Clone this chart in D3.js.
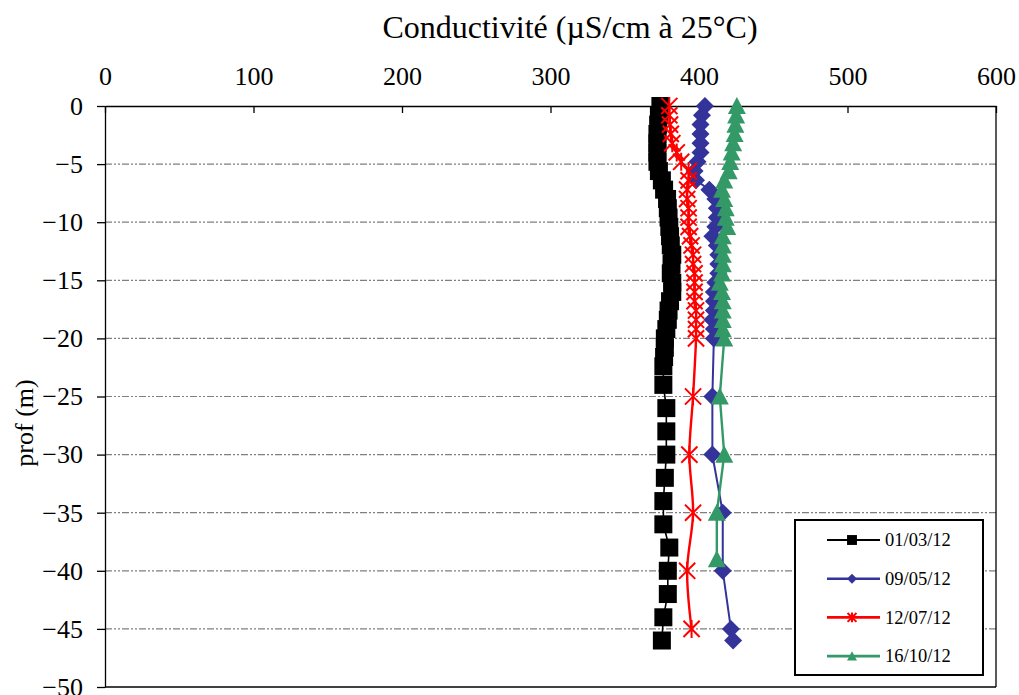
<!DOCTYPE html>
<html>
<head>
<meta charset="utf-8">
<script src="https://cdn.jsdelivr.net/npm/d3@7"></script>
<style>
body{margin:0;background:#fff}
svg text{font-family:"Liberation Serif","Times New Roman",serif;fill:#000}
</style>
</head>
<body>
<div class="chart"></div>
<script>
// depths (m) and conductivity values
const depthTop = [0,-0.8,-1.6,-2.4,-3.2,-4,-4.8,-5.6,-6.4,-7.2,-8,-8.8,-9.6,-10.4,-11.2,-12,-12.8,-13.6,-14.4,-15.2,-16,-16.8,-17.6,-18.4,-19.2,-20];

const depthBlack = depthTop.concat([-20.8,-21.6,-22.4,-24,-26,-28,-30,-32,-34,-36,-38,-40,-42,-44,-46]);
const valBlack = [374,373,372.5,372,372,372,372,373,375,376.5,378.5,379,379.5,380,380.5,381,382,381.5,381,382,382,380.5,379.5,379,378,377,
  377,376.5,376,376,378,378,378,377,376,376,380,379,379,376,375];

const depthBlue = depthTop.concat([-25,-30,-35,-40,-45,-46]);
const valBlue = [404,402,401,401,401,401,399,397,398,407,411,412,412,411,409,412,413,413,413,411,410,410,410,409,410,410,
  409,409,416,416,421.5,423];

const depthRed = depthTop.concat([-25,-30,-35,-40,-45]);
const valRed = [380,380,380.5,381,382,385,388,393,393,392,392,393,393,393,394,395,396,396,397,397,397,397,398,398,398,398,
  396,393.5,396,392,395];

const depthGreen = depthTop.concat([-25,-30,-35,-39]);
const valGreen = [425.5,425,424.5,424,423,422,421,420,417,415.5,417,418,418,419,416,416,416,416,415.5,414,415.5,416,416,416,416,417,
  414,417,412,412];

const seriesNames = ["01/03/12","09/05/12","12/07/12","16/10/12"];
const xTicks = [0,100,200,300,400,500,600];
const yTicks = [0,-5,-10,-15,-20,-25,-30,-35,-40,-45,-50];

const series = [
  {name: seriesNames[0], depth: depthBlack, val: valBlack, color: "#000000", marker: "square", width: 1.6, curve: d3.curveLinear},
  {name: seriesNames[1], depth: depthBlue, val: valBlue, color: "#333399", marker: "diamond", width: 2, curve: d3.curveLinear},
  {name: seriesNames[2], depth: depthRed, val: valRed, color: "#ff0000", marker: "star", width: 2.4, curve: d3.curveCatmullRom},
  {name: seriesNames[3], depth: depthGreen, val: valGreen, color: "#339966", marker: "triangle", width: 2.4, curve: d3.curveLinear}
];

const margin = {left:105, right:23, top:106, bottom:8};
const outerWidth = 1019, outerHeight = 695;
const width = outerWidth - margin.left - margin.right;
const height = outerHeight - margin.top - margin.bottom;

const svg = d3.select(".chart").append("svg")
  .attr("width", outerWidth)
  .attr("height", outerHeight);
const g = svg.append("g").attr("transform", `translate(${margin.left},${margin.top})`);

const xScale = d3.scaleLinear().domain([0,600]).range([0,width]);
const yScale = d3.scaleLinear().domain([0,-50]).range([0,height]);

// dash-dot-dot grid lines
g.selectAll(".grid")
  .data(yTicks.filter(d => d !== 0 && d !== -50))
  .enter().append("line")
  .attr("x1", 0).attr("x2", width)
  .attr("y1", d => yScale(d)).attr("y2", d => yScale(d))
  .attr("stroke", "#7f7f7f")
  .attr("stroke-width", 1.2)
  .attr("stroke-dasharray", "7,2,2,2,2,2");

const xAxis = d3.axisTop(xScale).tickValues(xTicks).tickSize(-7).tickSizeOuter(0).tickPadding(21).tickFormat(d3.format("d"));
const yAxis = d3.axisLeft(yScale).tickValues(yTicks).tickSize(8).tickSizeOuter(0).tickPadding(14).tickFormat(d3.format("d"));

const gx = g.append("g").call(xAxis);
const gy = g.append("g").call(yAxis);
[gx, gy].forEach(a => {
  a.attr("font-family", null);
  a.selectAll("text").style("font-size", "26px").attr("fill", "#000");
  a.selectAll("line").attr("stroke", "#000").attr("stroke-width", 1.3);
  a.select(".domain").attr("stroke", "#000").attr("stroke-width", 1.3);
});

// right and bottom border
g.append("line").attr("x1", width).attr("x2", width).attr("y1", 0).attr("y2", height)
  .attr("stroke", "#000").attr("stroke-width", 1.3);
g.append("line").attr("x1", 0).attr("x2", width).attr("y1", height).attr("y2", height)
  .attr("stroke", "#000").attr("stroke-width", 1.3);

function markerPath(type, s) {
  if (type === "square") return `M${-s},${-s}H${s}V${s}H${-s}Z`;
  if (type === "diamond") return `M0,${-s}L${s},0L0,${s}L${-s},0Z`;
  if (type === "triangle") return `M0,${-s}L${s},${s*0.9}L${-s},${s*0.9}Z`;
  // star: x with a vertical bar
  const k = s * 0.9;
  return `M${-k},${-k}L${k},${k}M${-k},${k}L${k},${-k}M0,${-s}L0,${s}`;
}
const markerSize = {square: 9, diamond: 9, triangle: 9, star: 9};

series.forEach(s => {
  const pts = s.depth.map((d, i) => ({d: d, v: s.val[i]}));
  const line = d3.line().x(p => xScale(p.v)).y(p => yScale(p.d)).curve(s.curve);
  g.append("path").datum(pts)
    .attr("d", line)
    .attr("fill", "none")
    .attr("stroke", s.color)
    .attr("stroke-width", s.width);
  const star = s.marker === "star";
  g.selectAll(null).data(pts).enter().append("path")
    .attr("transform", p => `translate(${xScale(p.v)},${yScale(p.d)})`)
    .attr("d", markerPath(s.marker, markerSize[s.marker]))
    .attr("fill", star ? "none" : s.color)
    .attr("stroke", star ? s.color : "none")
    .attr("stroke-width", star ? 2 : 0);
});

// title and y label
svg.append("text")
  .attr("x", 570).attr("y", 38)
  .attr("text-anchor", "middle")
  .style("font-size", "32px")
  .text("Conductivité (µS/cm à 25°C)");

svg.append("text")
  .attr("transform", "translate(33,423) rotate(-90)")
  .attr("text-anchor", "middle")
  .style("font-size", "26px")
  .text("prof (m)");

// legend
const legend = svg.append("g").attr("transform", "translate(795,520)");
legend.append("rect")
  .attr("width", 188).attr("height", 155)
  .attr("fill", "#fff")
  .attr("stroke", "#000")
  .attr("stroke-width", 2);
series.forEach((s, i) => {
  const ly = 20 + i * 38.7;
  const row = legend.append("g").attr("transform", `translate(0,${ly})`);
  row.append("line").attr("x1", 32).attr("x2", 85).attr("y1", 0).attr("y2", 0)
    .attr("stroke", s.color).attr("stroke-width", s.width + 0.4);
  const star = s.marker === "star";
  row.append("path")
    .attr("transform", "translate(57,0)")
    .attr("d", markerPath(s.marker, markerSize[s.marker] * 0.55))
    .attr("fill", star ? "none" : s.color)
    .attr("stroke", star ? s.color : "none")
    .attr("stroke-width", star ? 2 : 0);
  row.append("text").attr("x", 90).attr("y", 0).attr("dy", "0.34em")
    .style("font-size", "18.5px")
    .text(s.name);
});
</script>
</body>
</html>
